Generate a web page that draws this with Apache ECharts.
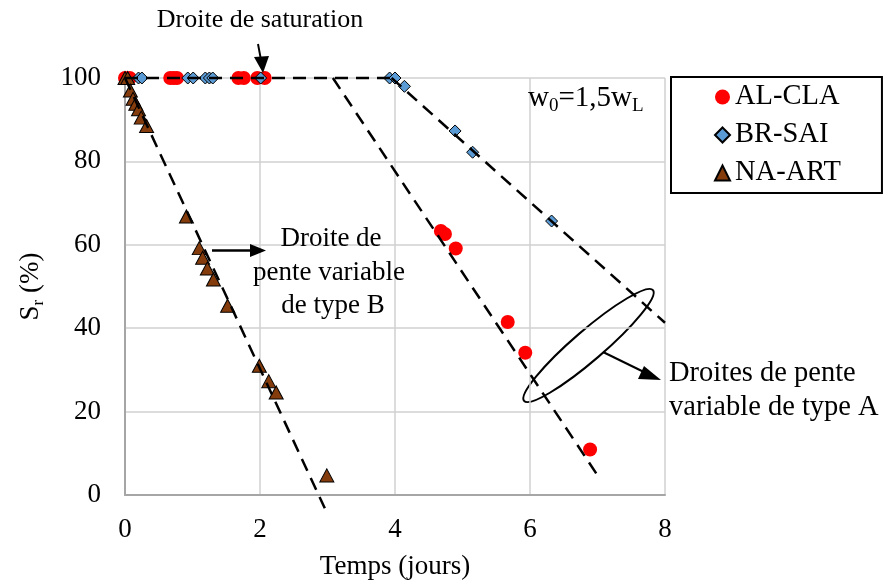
<!DOCTYPE html>
<html><head><meta charset="utf-8">
<script src="https://cdn.jsdelivr.net/npm/echarts@6/dist/echarts.min.js"></script>
<style>html,body{margin:0;padding:0;background:#fff}#c{width:886px;height:585px}</style>
</head><body><div id="c"></div>
<script>
// Data
const seriesNames = ['AL-CLA', 'BR-SAI', 'NA-ART'];
const alCla = [[0,100],[0.07,100],[0.67,100],[0.72,100],[0.77,100],[1.68,100],[1.76,100],[1.96,100],[2.07,100],
  [4.68,63.3],[4.74,62.6],[4.9,59.1],[5.67,41.5],[5.93,34.1],[6.89,10.9]];
const brSai = [[0.2,100],[0.25,100],[0.93,100],[1.01,100],[1.19,100],[1.25,100],[1.3,100],[2.01,100],[3.92,100],[4.0,100],
  [4.14,98],[4.89,87.3],[5.15,82.2],[6.32,65.7]];
const naArt = [[0,100],[0.04,100],[0.08,97],[0.12,95],[0.16,93.8],[0.2,92.5],[0.24,90.5],[0.32,88.5],
  [0.91,66.8],[1.1,59.2],[1.15,56.9],[1.22,54.3],[1.31,51.7],[1.52,45.4],[1.99,31],[2.13,27.3],[2.24,24.6],[2.99,4.7]];
const satLine = [[0,100],[4.0,100]];
const lineB = [[0,100],[2.96,-3.2]];
const lineA1 = [[3.08,100],[7.03,4]];
const lineA2 = [[3.95,100],[8,41.3]];
const xTicks = [0,2,4,6,8];
const yTicks = [0,20,40,60,80,100];

const FF = '"Liberation Serif", "Times New Roman", serif';
const chart = echarts.init(document.getElementById('c'), null, {renderer:'canvas'});

function dashLine(data){
  return {type:'line', data:data, symbol:'none', clip:false, silent:true, z:5,
    lineStyle:{color:'#000', width:2.5, type:[13,8], opacity:1}};
}

const option = {
  animation:false,
  backgroundColor:'#fff',
  textStyle:{fontFamily:FF},
  grid:{left:125, right:221, top:78, bottom:85, containLabel:false},
  xAxis:{type:'value', min:xTicks[0], max:xTicks[xTicks.length-1], interval:2,
    name:'Temps (jours)', nameLocation:'middle', nameGap:58,
    nameTextStyle:{fontFamily:FF, fontSize:27, color:'#000'},
    axisLine:{show:true, lineStyle:{color:'#a6a6a6', width:2}},
    axisTick:{show:false},
    axisLabel:{fontFamily:FF, fontSize:27, color:'#000', margin:21},
    splitLine:{show:true, lineStyle:{color:'#d0d0d0', width:1.5}}},
  yAxis:{type:'value', min:yTicks[0], max:yTicks[yTicks.length-1], interval:20,
    name:'{n|S}{s|r}{n| (%)}', nameLocation:'middle', nameGap:78, nameRotate:90,
    nameTextStyle:{fontFamily:FF, color:'#000',
      rich:{n:{fontFamily:FF, fontSize:27, color:'#000', verticalAlign:'top', lineHeight:30},
            s:{fontFamily:FF, fontSize:17, color:'#000', verticalAlign:'bottom', lineHeight:18}}},
    axisLine:{show:true, lineStyle:{color:'#a6a6a6', width:2}},
    axisTick:{show:false},
    axisLabel:{fontFamily:FF, fontSize:27, color:'#000', margin:24},
    splitLine:{show:true, lineStyle:{color:'#d0d0d0', width:1.5}}},
  legend:{show:true, orient:'vertical', left:671, top:77,
    data:seriesNames,
    backgroundColor:'#fff', borderColor:'#000', borderWidth:2,
    padding:[5,41,5,43], itemGap:8, itemWidth:15, itemHeight:15,
    textStyle:{fontFamily:FF, fontSize:28.5, color:'#000', lineHeight:30}},
  series:[
    {name:seriesNames[0], type:'scatter', data:alCla, symbol:'circle', symbolSize:14, clip:false, z:2,
      itemStyle:{color:'#ff0000', borderWidth:0, opacity:1}},
    {name:seriesNames[1], type:'scatter', data:brSai, symbol:'diamond', symbolSize:12, clip:false, z:3,
      itemStyle:{color:'#5b9bd5', borderColor:'#000', borderWidth:1, opacity:1}},
    {name:seriesNames[2], type:'scatter', data:naArt, symbol:'triangle', symbolSize:[14,13], clip:false, z:4,
      itemStyle:{color:'#843c0c', borderColor:'#000', borderWidth:1, opacity:1}},
    dashLine(satLine), dashLine(lineB), dashLine(lineA1), dashLine(lineA2)
  ],
  graphic:[
    {type:'text', x:260, y:20, z:10, style:{text:'Droite de saturation', fontFamily:FF, fontSize:26, fill:'#000', align:'center', verticalAlign:'middle'}},
    {type:'line', z:10, shape:{x1:258, y1:44, x2:261, y2:60}, style:{stroke:'#000', lineWidth:2}},
    {type:'polygon', z:10, shape:{points:[[254,57],[269,56],[263,73]]}, style:{fill:'#000'}},
    {type:'text', x:528, y:100, z:10, style:{
      text:'{n|w}{s|0}{n|=1,5w}{s|L}', fontFamily:FF, fill:'#000', align:'left', verticalAlign:'middle',
      rich:{n:{fontFamily:FF, fontSize:29, fill:'#000', verticalAlign:'top', lineHeight:32},
            s:{fontFamily:FF, fontSize:19, fill:'#000', verticalAlign:'bottom', lineHeight:20}}}},
    // type B annotation
    {type:'line', z:10, shape:{x1:212, y1:250.5, x2:252, y2:250.5}, style:{stroke:'#000', lineWidth:2.5}},
    {type:'polygon', z:10, shape:{points:[[250,244],[266,250.5],[250,257]]}, style:{fill:'#000'}},
    {type:'text', x:331, y:239, z:10, style:{text:'Droite de', fontFamily:FF, fontSize:27, fill:'#000', align:'center', verticalAlign:'middle'}},
    {type:'text', x:329, y:273, z:10, style:{text:'pente variable', fontFamily:FF, fontSize:27, fill:'#000', align:'center', verticalAlign:'middle'}},
    {type:'text', x:333, y:306, z:10, style:{text:'de type B', fontFamily:FF, fontSize:27, fill:'#000', align:'center', verticalAlign:'middle'}},
    // type A annotation
    {type:'group', x:588.5, y:345.5, rotation:40.7*Math.PI/180, z:10, children:[
      {type:'ellipse', shape:{cx:0, cy:0, rx:85, ry:15}, style:{fill:'none', stroke:'#000', lineWidth:2}}
    ]},
    {type:'line', z:10, shape:{x1:603, y1:352, x2:648, y2:374}, style:{stroke:'#000', lineWidth:2}},
    {type:'polygon', z:10, shape:{points:[[644,366],[661,380],[638,379]]}, style:{fill:'#000'}},
    {type:'text', x:669, y:374, z:10, style:{text:'Droites de pente', fontFamily:FF, fontSize:28.5, fill:'#000', align:'left', verticalAlign:'middle'}},
    {type:'text', x:669, y:408, z:10, style:{text:'variable de type A', fontFamily:FF, fontSize:28.5, fill:'#000', align:'left', verticalAlign:'middle'}}
  ]
};
chart.setOption(option);
</script>
</body></html>
